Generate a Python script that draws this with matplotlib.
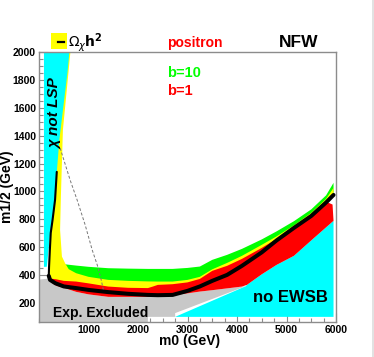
import matplotlib
matplotlib.use('Agg')
import matplotlib.pyplot as plt
from matplotlib.patches import Rectangle
from matplotlib.lines import Line2D
from matplotlib.ticker import MultipleLocator, FixedLocator

plt.rcParams['font.family'] = ['Liberation Sans', 'DejaVu Sans']
plt.rcParams['mathtext.fontset'] = 'dejavusans'

# ---------------- data (m0, m1/2 in GeV) ----------------
grid_x = [500, 750, 1000, 1400, 1800, 2200, 2400, 2700, 3000, 3250,
          3500, 3800, 4100, 4500, 4800, 5150, 5500, 5800, 5950]
# b=10 (green) band edges
green_top = [476, 466, 457, 447, 444, 442, 442, 442, 449, 459,
             507, 543, 586, 654, 712, 785, 870, 971, 1061]
green_bot = [432, 411, 385, 363, 356, 352, 351, 351, 363, 385,
             439, 485, 536, 615, 676, 755, 845, 946, 1025]
# relic density line (black)
black_x = [359, 324, 274, 237, 219, 203, 197, 223, 330, 500, 750, 1000, 1400,
           1800, 2200, 2400, 2700, 3000, 3250, 3500, 3800, 4100, 4500, 4800,
           5150, 5500, 5800, 5950]
black_y = [1140, 938, 795, 701, 579, 457, 392, 363, 339, 316, 304, 291, 275,
           263, 255, 253, 255, 284, 316, 356, 399, 464, 561, 647,
           737, 823, 920, 974]
# Omega h^2 (yellow) strip along the LSP boundary
yellow_edge_x = [634, 600, 483, 463, 442, 426, 463, 527, 600]
yellow_edge_y = [2000, 1873, 1442, 1204, 960, 723, 531, 483, 440]
# b=1 (red) band edges
red_top_x = [240, 350, 500, 750, 1000, 1400, 1800, 2200, 2300, 2400, 2700,
             3000, 3250, 3500, 3800, 4100, 4500, 4800, 5150, 5500, 5800, 5930]
red_top_y = [372, 367, 356, 351, 338, 315, 306, 304, 315, 327, 332,
             345, 370, 428, 464, 514, 593, 658, 744, 834, 925, 905]
red_bot_x = [240, 350, 500, 750, 1000, 1400, 1800, 2200, 2400, 2700, 3000,
             3250, 3500, 3800, 4100, 4200, 4500, 4800, 5150, 5500, 5800, 5950]
red_bot_y = [345, 320, 306, 277, 259, 241, 241, 241, 245, 252, 266,
             279, 289, 302, 315, 327, 403, 471, 536, 647, 741, 788]
# chi not LSP region (cyan, left)
lsp_x = [100, 100, 614, 574, 411, 304, 223, 162, 155]
lsp_y = [457, 2000, 2000, 1851, 1370, 888, 687, 471, 457]
# dashed contour
dash_x = [426, 628, 770, 932, 1074, 1176, 1257, 1307]
dash_y = [1312, 1082, 938, 759, 579, 471, 363, 277]

xticks = [1000, 2000, 3000, 4000, 5000, 6000]
yticks = [200, 400, 600, 800, 1000, 1200, 1400, 1600, 1800, 2000]

# ---------------- figure ----------------
fig = plt.figure(figsize=(3.74, 3.57), dpi=100)
ax = fig.add_axes([0.1043, 0.098, 0.7941, 0.7555])
ax.set_xlim(0, 6000)
ax.set_ylim(60, 2000)

CYAN = '#00ffff'; GREEN = '#00ff00'; RED = '#ff0000'
YELLOW = '#ffff00'; GRAY = '#c8c8c8'

nh = 9  # index where the black line becomes horizontal (x=500)
bh_x = black_x[nh:]
bh_y = black_y[nh:]

# green band
ax.fill(grid_x + bh_x[::-1], green_top + bh_y[::-1], color=GREEN, lw=0, zorder=2.0)
# yellow band
yx = yellow_edge_x + grid_x[1:] + black_x[::-1] + [100]
yy = yellow_edge_y + green_bot[1:] + black_y[::-1] + [2000]
ax.fill(yx, yy, color=YELLOW, lw=0, zorder=2.1)
# no EWSB (cyan, right)
cx = [2750, 4180] + red_bot_x[15:] + [5950]
cy = [97, 318] + red_bot_y[15:] + [97]
ax.fill(cx, cy, color=CYAN, lw=0, zorder=2.2)
# experimentally excluded (gray)
gx = [0, 190] + red_bot_x[:15] + [4180, 2750, 2750, 2200, 2200, 0]
gy = [365, 372] + red_bot_y[:15] + [318, 124, 97, 97, 60, 60]
ax.fill(gx, gy, color=GRAY, lw=0, zorder=2.3)
# red band
ax.fill(red_top_x + red_bot_x[::-1], red_top_y + red_bot_y[::-1],
        color=RED, lw=0, zorder=2.4)
# chi not LSP
ax.fill(lsp_x, lsp_y, color=CYAN, lw=0, zorder=2.5)
# dashed line
ax.plot(dash_x, dash_y, color='#777777', lw=0.7, ls=(0, (3, 2)), zorder=2.6)
# black relic line
ax.plot(black_x[:8], black_y[:8], color='black', lw=1.5, zorder=3,
        solid_capstyle='round', solid_joinstyle='round')
ax.plot(black_x[6:], black_y[6:], color='black', lw=2.9, zorder=3,
        solid_capstyle='round', solid_joinstyle='round')

# texts inside plot
ax.text(330, 1560, 'χ not LSP', rotation=90, ha='center', va='center',
        fontsize=11, fontweight='bold', fontstyle='italic', zorder=4)
ax.text(290, 97, 'Exp. Excluded', ha='left', va='baseline',
        fontsize=10, fontweight='bold', zorder=4)
ax.text(4330, 205, 'no EWSB', ha='left', va='baseline',
        fontsize=12, fontweight='bold', zorder=4)

# axes styling
for s in ax.spines.values():
    s.set_color('#8c8c8c')
    s.set_linewidth(1.0)
ax.xaxis.set_major_locator(FixedLocator(xticks))
ax.yaxis.set_major_locator(FixedLocator(yticks))
ax.xaxis.set_minor_locator(MultipleLocator(250))
ax.yaxis.set_minor_locator(MultipleLocator(50))
ax.tick_params(which='both', direction='in', top=False, right=False,
               color='#8c8c8c', width=0.8)
ax.tick_params(which='major', length=6.5, labelsize=7.5, pad=2.2)
ax.tick_params(which='minor', length=3.2)
ax.set_xticklabels([str(v) for v in xticks], fontweight='bold')
ax.set_yticklabels([str(v) for v in yticks], fontweight='bold')

fig.text(0.508, 1-334.5/357, 'm0 (GeV)', ha='center', va='top',
         fontsize=10, fontweight='bold')
fig.text(7.5/374, 0.476, 'm1/2 (GeV)', ha='center', va='center', rotation=90,
         fontsize=10, fontweight='bold')

# header
fig.add_artist(Rectangle((51/374, 1-49/357), 16/374, 16/357,
                         transform=fig.transFigure, facecolor=YELLOW,
                         edgecolor='none'))
fig.add_artist(Line2D([58/374, 64/374], [1-41.5/357, 1-41.5/357],
                      transform=fig.transFigure, color='black', lw=1.6))
fig.text(68/374, 1-47/357, r'$\Omega_{\chi}\mathbf{h}^{\mathbf{2}}$',
         ha='left', va='baseline', fontsize=10)
fig.text(194.5/374, 1-46.5/357, 'positron', ha='center', va='baseline',
         fontsize=10, fontweight='bold', color=RED)
fig.text(279/374, 1-47/357, 'NFW', ha='left', va='baseline',
         fontsize=12.5, fontweight='bold', color='black')
fig.text(167/374, 1-77/357, 'b=10', ha='left', va='baseline',
         fontsize=10.5, fontweight='bold', color=GREEN)
fig.text(167/374, 1-95/357, 'b=1', ha='left', va='baseline',
         fontsize=10.5, fontweight='bold', color=RED)

fig.add_artist(Line2D([0.9965, 0.9965], [0, 1], transform=fig.transFigure,
                      color='#dddddd', lw=1.2))

fig.savefig('out.png', dpi=100)
